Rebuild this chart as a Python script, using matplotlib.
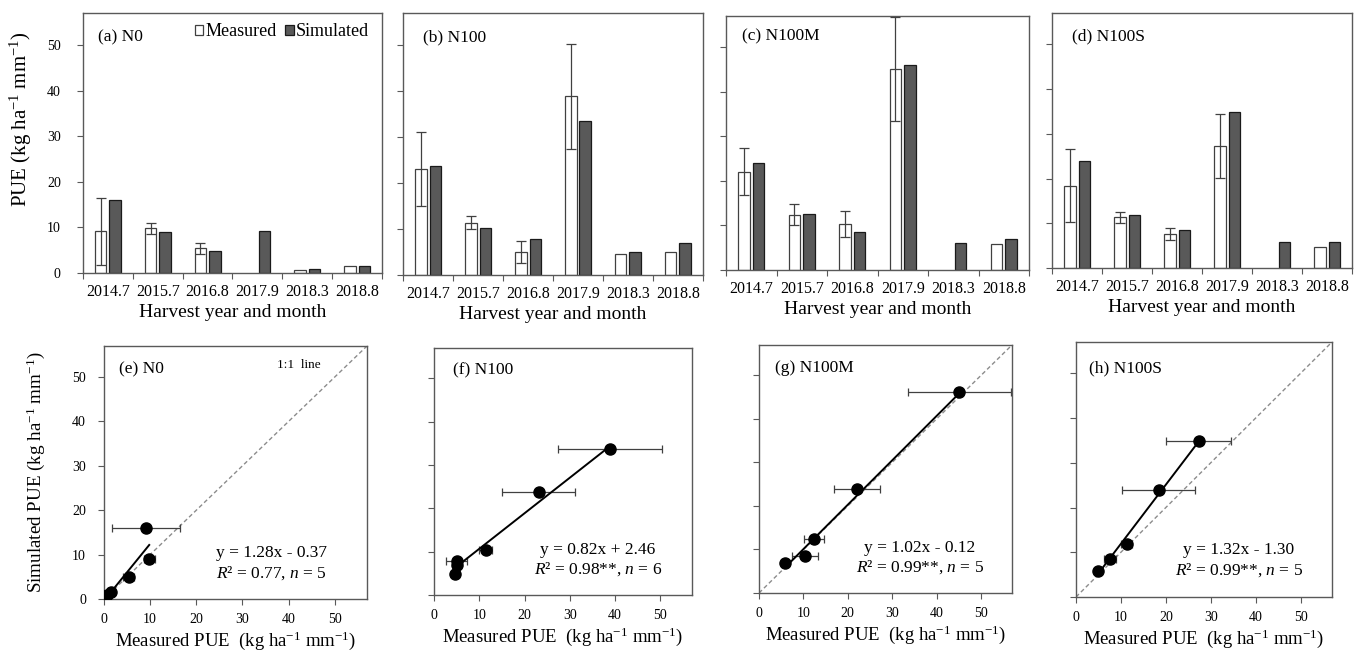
import numpy as np
import matplotlib
matplotlib.use('Agg')
import matplotlib.pyplot as plt
from matplotlib.patches import Patch
from matplotlib.ticker import NullFormatter

plt.rcParams['font.family'] = ['Liberation Serif', 'DejaVu Serif']
plt.rcParams['mathtext.fontset'] = 'custom'
plt.rcParams['mathtext.rm'] = 'Liberation Serif'
plt.rcParams['mathtext.it'] = 'Liberation Serif:italic'

nan = np.nan

# categories
harvest_lst = ['2014.7', '2015.7', '2016.8', '2017.9', '2018.3', '2018.8']
treatment_lst = ['N0', 'N100', 'N100M', 'N100S']

# measured PUE (mean, sd) and simulated PUE per harvest
measured_n0 = [9.1, 9.8, 5.4, nan, 0.7, 1.5]
sd_n0 = [7.4, 1.2, 1.2, nan, 0, 0]
simulated_n0 = [16.0, 9.0, 4.9, 9.2, 0.8, 1.6]

measured_n100 = [23.1, 11.4, 5.0, 38.9, 4.6, 5.0]
sd_n100 = [8.1, 1.4, 2.3, 11.4, 0, 0]
simulated_n100 = [23.8, 10.3, 7.8, 33.6, 4.9, 7.0]

measured_n100m = [22.1, 12.4, 10.4, 45.1, nan, 5.8]
sd_n100m = [5.2, 2.3, 2.9, 11.6, nan, 0]
simulated_n100m = [23.9, 12.5, 8.5, 46.1, 6.1, 7.0]

measured_n100s = [18.4, 11.3, 7.6, 27.3, nan, 4.8]
sd_n100s = [8.2, 1.2, 1.3, 7.2, nan, 0]
simulated_n100s = [24.0, 11.8, 8.6, 34.8, 5.9, 5.9]

# regression results shown in the scatter panels
fit_slope = [1.28, 0.82, 1.02, 1.32]
fit_intercept = [-0.37, 2.46, -0.12, -1.30]
eq_text = ['y = 1.28x - 0.37', 'y = 0.82x + 2.46', 'y = 1.02x - 0.12', 'y = 1.32x - 1.30']
r2_text = ['0.77', '0.98**', '0.99**', '0.99**']
n_lst = [5, 6, 5, 5]
one_to_one = [True, False, True, True]

measured_all = [measured_n0, measured_n100, measured_n100m, measured_n100s]
sd_all = [sd_n0, sd_n100, sd_n100m, sd_n100s]
simulated_all = [simulated_n0, simulated_n100, simulated_n100m, simulated_n100s]

# figure parameters
W, H = 1358, 651
LIM = 57
EDGE = '#595959'
DARK = '#595959'
ERR = '#404040'
PUE_UNIT = r'(kg ha$^{-1}$ mm$^{-1}$)'

# axes boxes in pixels: left, top, right, bottom
bar_boxes = [(83, 13, 382, 273), (403, 13, 703, 275), (726, 16, 1029, 270), (1052, 13, 1352, 268)]
sc_boxes = [(104, 346, 367, 599), (434, 348, 692, 595), (759, 345, 1012, 593), (1076, 342, 1332, 597)]
# panel tag positions (axes fraction)
bar_tag_pos = [(0.05, 0.89), (0.067, 0.89), (0.053, 0.905), (0.067, 0.894)]
sc_tag_pos = [(0.057, 0.893), (0.074, 0.895), (0.063, 0.891), (0.05, 0.882)]


def add_axes(fig, box):
    l, t, r, b = box
    return fig.add_axes([l / W, 1 - b / H, (r - l) / W, (b - t) / H])


def style_frame(ax):
    for sp in ax.spines.values():
        sp.set_color(EDGE)
        sp.set_linewidth(1.0)


fig = plt.figure(figsize=(W / 100, H / 100), dpi=100)

# top row: bars
for i, box in enumerate(bar_boxes):
    ax = add_axes(fig, box)
    style_frame(ax)
    x = np.arange(len(harvest_lst))
    meas = np.array(measured_all[i], dtype=float)
    sd = np.array(sd_all[i], dtype=float)
    sim = np.array(simulated_all[i], dtype=float)
    ax.bar(x - 0.145, meas, 0.23, color='white', edgecolor=ERR, linewidth=0.9, zorder=2)
    ax.bar(x + 0.145, sim, 0.23, color=DARK, edgecolor='#1a1a1a', linewidth=0.9, zorder=2)
    ok = ~np.isnan(sd) & (sd > 0)
    ax.errorbar(x[ok] - 0.145, meas[ok], yerr=sd[ok], fmt='none', ecolor=ERR,
                elinewidth=0.9, capsize=3.5, capthick=0.9, zorder=3)

    ax.set_xlim(-0.5, len(harvest_lst) - 0.5)
    ax.set_ylim(0, LIM)
    ax.set_xticks(np.arange(-0.5, len(harvest_lst), 1))
    ax.xaxis.set_major_formatter(NullFormatter())
    ax.set_xticks(x, minor=True)
    ax.set_xticklabels(harvest_lst, minor=True)
    ax.tick_params(axis='x', which='major', length=4, color=EDGE, direction='out')
    ax.tick_params(axis='x', which='minor', length=0, pad=8, labelsize=11.5)
    ax.set_yticks(range(0, 51, 10))
    ax.tick_params(axis='y', length=4, color=EDGE, direction='out', pad=12, labelsize=10)
    if i > 0:
        ax.set_yticklabels([])
    else:
        ax.set_ylabel('PUE ' + PUE_UNIT, fontsize=15)
        ax.yaxis.set_label_coords(-0.165, 0.59)
        ax.legend(handles=[Patch(facecolor='white', edgecolor=ERR, linewidth=0.9),
                           Patch(facecolor=DARK, edgecolor='#1a1a1a', linewidth=0.9)],
                  labels=['Measured', 'Simulated'], loc='upper right', ncol=2, frameon=False,
                  bbox_to_anchor=(0.955, 0.96), borderaxespad=0, borderpad=0,
                  handlelength=0.45, handleheight=0.45, handletextpad=0.1,
                  columnspacing=0.5, prop={'size': 13})
    ax.set_xlabel('Harvest year and month', fontsize=14)
    ax.xaxis.set_label_coords(0.5, -31 / (box[3] - box[1]))
    tx, ty = bar_tag_pos[i]
    ax.text(tx, ty, '(' + 'abcd'[i] + ') ' + treatment_lst[i], transform=ax.transAxes,
            fontsize=12.5, va='baseline', ha='left')

# bottom row: measured vs simulated
for i, box in enumerate(sc_boxes):
    ax = add_axes(fig, box)
    style_frame(ax)
    meas = np.array(measured_all[i], dtype=float)
    sd = np.array(sd_all[i], dtype=float)
    sim = np.array(simulated_all[i], dtype=float)
    ok = ~np.isnan(meas)
    if one_to_one[i]:
        ax.plot([0, LIM], [0, LIM], color='#8c8c8c', lw=1.0, dashes=(3, 2), zorder=1)
    has_sd = ok & (np.nan_to_num(sd) > 0)
    ax.errorbar(meas[has_sd], sim[has_sd], xerr=sd[has_sd], fmt='none', ecolor=ERR,
                elinewidth=0.9, capsize=3, capthick=0.9, zorder=2)
    ax.plot(meas[ok], sim[ok], 'o', color='black', markersize=8, zorder=3)
    xs = np.array([meas[ok].min(), meas[ok].max()])
    ax.plot(xs, fit_slope[i] * xs + fit_intercept[i], color='black', lw=1.4, zorder=4)

    ax.set_xlim(0, LIM)
    ax.set_ylim(0, LIM)
    ax.set_xticks(range(0, 51, 10))
    ax.set_yticks(range(0, 51, 10))
    ax.tick_params(length=4, color=EDGE, direction='out', labelsize=10)
    ax.tick_params(axis='x', pad=6)
    ax.tick_params(axis='y', pad=9)
    if i > 0:
        ax.set_yticklabels([])
    else:
        ax.set_ylabel('Simulated PUE ' + PUE_UNIT, fontsize=13.7)
        ax.yaxis.set_label_coords(-57 / (box[2] - box[0]), 0.5)
        ax.text(37.5, 52.8, '1:1  line', fontsize=9.5, va='center', ha='left')
    ax.set_xlabel('Measured PUE  ' + PUE_UNIT, fontsize=13.5)
    ax.xaxis.set_label_coords(0.5, -30 / (box[3] - box[1]))
    tx, ty = sc_tag_pos[i]
    ax.text(tx, ty, '(' + 'efgh'[i] + ') ' + treatment_lst[i], transform=ax.transAxes,
            fontsize=12.5, va='baseline', ha='left')
    ax.text(36.2, 9.5, eq_text[i], fontsize=12.5, ha='center', va='baseline')
    ax.text(36.2, 4.9, r'$R$² = ' + r2_text[i] + r', $n$ = ' + str(n_lst[i]),
            fontsize=12.5, ha='center', va='baseline')

fig.savefig('out.png', dpi=100)
